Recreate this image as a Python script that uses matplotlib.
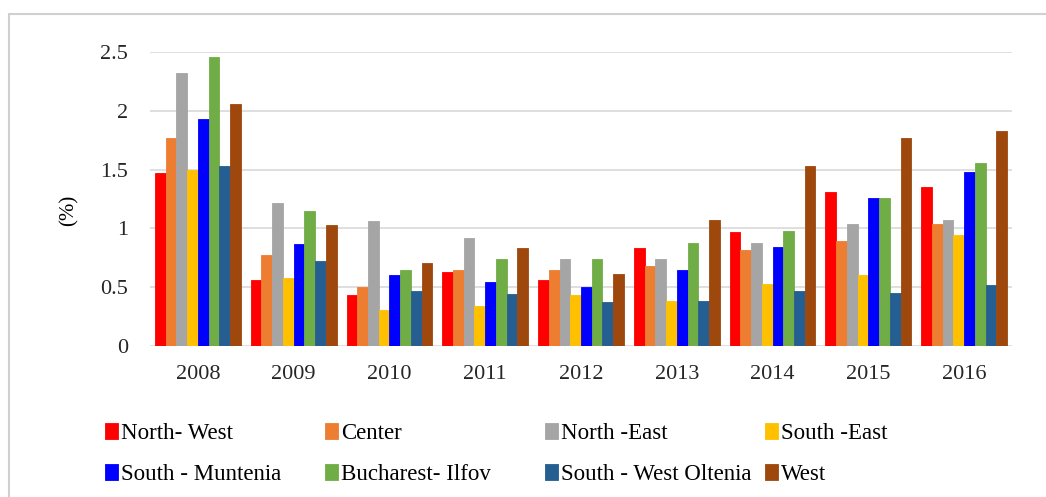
import numpy as np
import matplotlib.pyplot as plt
from matplotlib.patches import Rectangle

years = ["2008", "2009", "2010", "2011", "2012", "2013", "2014", "2015", "2016"]
regions = ["North- West", "Center", "North -East", "South -East",
           "South - Muntenia", "Bucharest- Ilfov", "South - West Oltenia", "West"]

north_west = [1.47, 0.56, 0.43, 0.63, 0.56, 0.83, 0.97, 1.31, 1.35]
center = [1.77, 0.77, 0.50, 0.65, 0.65, 0.68, 0.82, 0.89, 1.04]
north_east = [2.32, 1.22, 1.06, 0.92, 0.74, 0.74, 0.88, 1.04, 1.07]
south_east = [1.50, 0.58, 0.31, 0.34, 0.43, 0.38, 0.53, 0.60, 0.94]
south_muntenia = [1.93, 0.87, 0.60, 0.54, 0.50, 0.65, 0.84, 1.26, 1.48]
bucharest_ilfov = [2.46, 1.15, 0.65, 0.74, 0.74, 0.88, 0.98, 1.26, 1.56]
sw_oltenia = [1.53, 0.72, 0.47, 0.44, 0.37, 0.38, 0.47, 0.45, 0.52]
west = [2.06, 1.03, 0.71, 0.83, 0.61, 1.07, 1.53, 1.77, 1.83]

series = [north_west, center, north_east, south_east,
          south_muntenia, bucharest_ilfov, sw_oltenia, west]
colors = ["#ff0000", "#ed7d31", "#a5a5a5", "#ffc000",
          "#0000ff", "#70ad47", "#255e91", "#9e480e"]

plt.rcParams['font.family'] = ['Liberation Serif', 'DejaVu Serif']

W, H = 1046, 497
fig = plt.figure(figsize=(W / 100, H / 100), dpi=100)
ax = fig.add_axes([150 / W, 1 - 346 / H, 862 / W, 294 / H])

# outer chart frame, cut off at right and bottom
fig.patches.append(Rectangle((9 / W, -0.1), 1.2, 1 - 14 / H + 0.1,
                             transform=fig.transFigure, fill=False,
                             edgecolor="#d0d0d0", linewidth=1.5))

x = np.arange(len(years))
n = len(series)
bw = 0.112
bars = []
for i, (vals, c) in enumerate(zip(series, colors)):
    b = ax.bar(x + (i - (n - 1) / 2) * bw, vals, bw, color=c,
               edgecolor=c, linewidth=0.6, zorder=3)
    bars.append(b)

ax.set_xlim(-0.5, len(years) - 0.5)
ax.set_ylim(0, 2.5)
ax.set_yticks([0, 0.5, 1, 1.5, 2, 2.5])
ax.set_yticklabels(["0", "0.5", "1", "1.5", "2", "2.5"])
ax.set_xticks(x)
ax.set_xticklabels(years)
ax.tick_params(length=0, labelsize=16, colors="#262626")
ax.tick_params(axis="x", pad=14)
ax.tick_params(axis="y", pad=16)
ax.grid(axis="y", color="#d9d9d9", linewidth=1.2, zorder=0)
for s in ax.spines.values():
    s.set_visible(False)
ax.set_ylabel("(%)", fontsize=15)
ax.yaxis.set_label_coords(-0.083, 0.46)

# legend: four columns of two entries, filled row by row
col_x = [105, 325, 545, 765]
for k, cx in enumerate(col_x):
    fig.legend([bars[k], bars[k + 4]], [regions[k], regions[k + 4]],
               loc="upper left", bbox_to_anchor=(cx / W, 1 - 423 / H),
               frameon=False, fontsize=16.5, handlelength=0.55,
               handleheight=0.7, handletextpad=0.15,
               labelspacing=0.85, borderaxespad=0, borderpad=0)

fig.savefig("out.png", dpi=100)
